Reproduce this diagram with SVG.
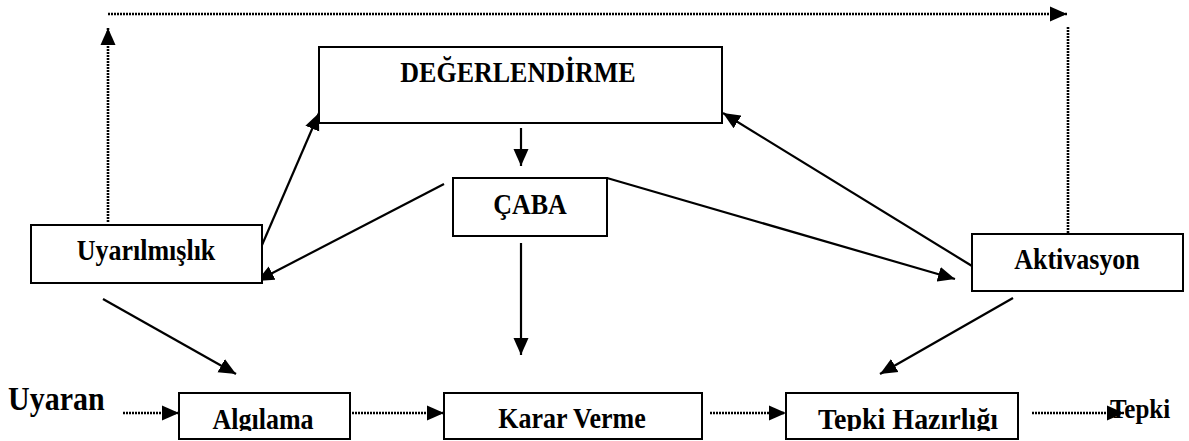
<svg xmlns="http://www.w3.org/2000/svg" width="1189" height="441" viewBox="0 0 1189 441">
<style>
.box{fill:#fff;stroke:#000;stroke-width:2}
.t{font-family:"Liberation Serif","Times New Roman",serif;font-weight:bold;font-size:26px;fill:#000;text-anchor:middle}
.solid{stroke:#000;stroke-width:2.2;fill:none}
.dot{stroke:#000;stroke-width:2.6;fill:none;stroke-dasharray:2 1}
</style>
<defs>
<marker id="ah" markerUnits="userSpaceOnUse" markerWidth="18" markerHeight="16" refX="17" refY="8" orient="auto" viewBox="0 0 18 16">
<path d="M0,0.5 L17,8 L0,15.5 z" fill="#000"/>
</marker>
<clipPath id="clipBottom"><rect x="-600" y="-100" width="1200" height="102"/></clipPath>
</defs>
<g id="connectors">
<line class="dot" x1="108" y1="222" x2="108" y2="28" marker-end="url(#ah)"/>
<line class="dot" x1="108" y1="14" x2="1067" y2="14" marker-end="url(#ah)"/>
<line class="dot" x1="1068" y1="27" x2="1068" y2="233"/>
<line class="solid" x1="262" y1="245" x2="319" y2="113" marker-end="url(#ah)"/>
<line class="solid" x1="521" y1="128" x2="521" y2="166" marker-end="url(#ah)"/>
<line class="solid" x1="444" y1="184" x2="257" y2="281" marker-end="url(#ah)"/>
<line class="solid" x1="607" y1="178" x2="955" y2="279" marker-end="url(#ah)"/>
<line class="solid" x1="972" y1="266" x2="723" y2="113" marker-end="url(#ah)"/>
<line class="solid" x1="521" y1="243" x2="521" y2="355" marker-end="url(#ah)"/>
<line class="solid" x1="103" y1="299" x2="236" y2="374" marker-end="url(#ah)"/>
<line class="solid" x1="1013" y1="298" x2="880" y2="374" marker-end="url(#ah)"/>
<line class="dot" x1="123" y1="413" x2="179" y2="413" marker-end="url(#ah)"/>
<line class="dot" x1="352" y1="413" x2="444" y2="413" marker-end="url(#ah)"/>
<line class="dot" x1="710" y1="413" x2="786" y2="413" marker-end="url(#ah)"/>
<line class="dot" x1="1032" y1="413" x2="1124" y2="413" marker-end="url(#ah)"/>
</g>
<g id="degerlendirme">
<rect class="box" x="319" y="47" width="403" height="76"/>
<text class="t" transform="translate(518,82) scale(1,1.12)">DEĞERLENDİRME</text>
</g>
<g id="caba">
<rect class="box" x="453" y="178" width="154" height="58"/>
<text class="t" transform="translate(530,214) scale(1,1.12)">ÇABA</text>
</g>
<g id="uyarilmislik">
<rect class="box" x="31" y="225" width="231" height="58"/>
<text class="t" transform="translate(146,260) scale(1,1.12)">Uyarılmışlık</text>
</g>
<g id="aktivasyon">
<rect class="box" x="972" y="234" width="211" height="57"/>
<text class="t" transform="translate(1077,269) scale(1,1.12)">Aktivasyon</text>
</g>
<g id="uyaran">
<text class="t" transform="translate(8,410) scale(1,1.15)" style="text-anchor:start;font-size:30px">Uyaran</text>
</g>
<g id="algilama">
<rect class="box" x="179" y="393" width="171" height="46"/>
<g transform="translate(263,429)" clip-path="url(#clipBottom)"><text class="t" transform="scale(1,1.12)">Algılama</text></g>
</g>
<g id="karar-verme">
<rect class="box" x="444" y="393" width="258" height="46"/>
<text class="t" transform="translate(572,428) scale(1,1.12)">Karar Verme</text>
</g>
<g id="tepki-hazirligi">
<rect class="box" x="786" y="393" width="232" height="46"/>
<g transform="translate(908,429)" clip-path="url(#clipBottom)"><text class="t" transform="scale(1,1.05)" style="font-size:28px">Tepki Hazırlığı</text></g>
</g>
<g id="tepki">
<text class="t" transform="translate(1110,418) scale(1,1.1)" style="text-anchor:start;font-size:25px">Tepki</text>
</g>
</svg>
